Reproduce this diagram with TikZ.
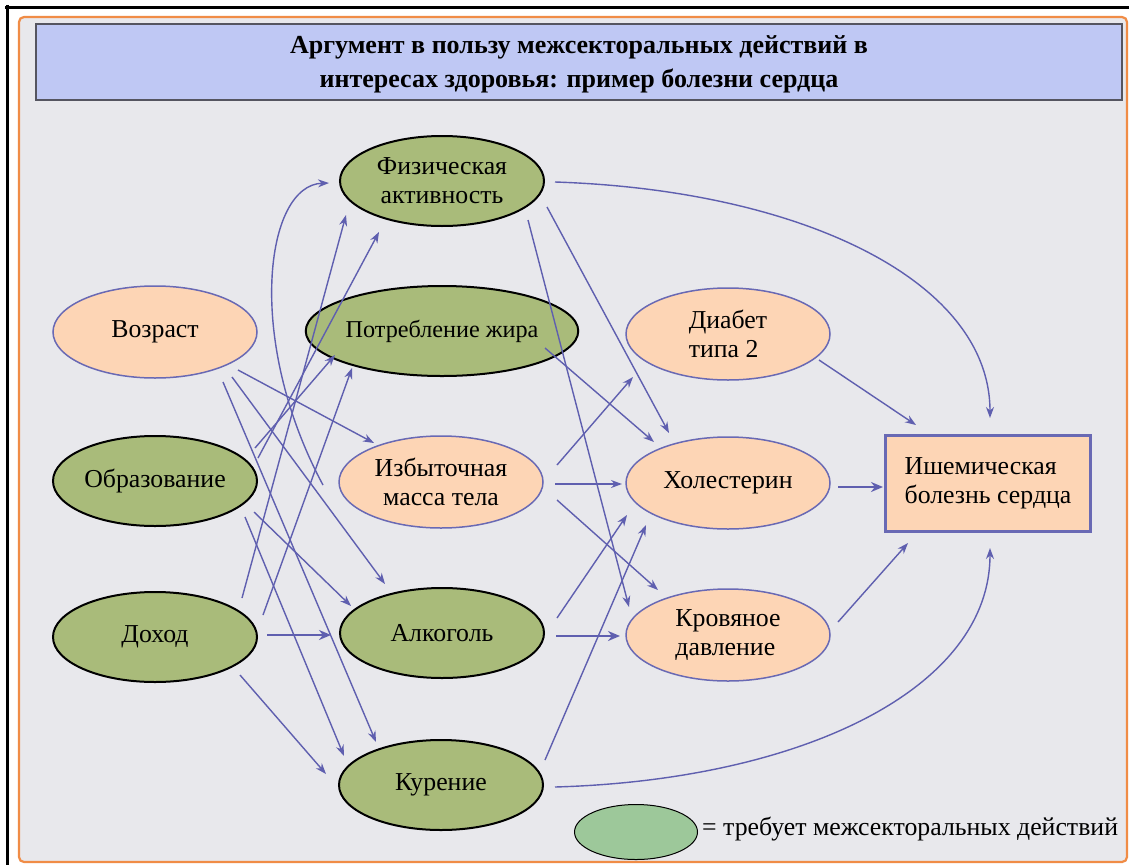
\documentclass[tikz,border=0pt]{standalone}
\usepackage{fontspec}
\setmainfont{Liberation Serif}
\usetikzlibrary{shapes.geometric,arrows.meta,calc}
\definecolor{bgc}{RGB}{232,232,236}
\definecolor{orangec}{RGB}{240,140,70}
\definecolor{titlec}{RGB}{191,200,244}
\definecolor{titlebd}{RGB}{85,85,96}
\definecolor{greenc}{RGB}{169,187,122}
\definecolor{peachc}{RGB}{253,213,181}
\definecolor{pbord}{RGB}{105,105,180}
\definecolor{arrc}{RGB}{95,95,175}
\definecolor{legc}{RGB}{157,200,154}
\newcommand\nodefnt{\fontsize{25.8}{29}\selectfont}
\tikzset{
  gnode/.style={ellipse, draw=black, line width=2pt, fill=greenc, minimum width=204pt, minimum height=90pt, inner sep=0pt, font=\nodefnt, align=center},
  pnode/.style={ellipse, draw=pbord, line width=1.5pt, fill=peachc, minimum width=204pt, minimum height=92pt, inner sep=0pt, font=\nodefnt, align=center},
  arr/.style={draw=arrc, line width=1.4pt, -{Stealth[length=11pt,width=8pt]}},
  tarr/.style={arr, line width=2.8pt, -{Stealth[length=12pt,width=10pt]}}
}
\begin{document}
\begin{tikzpicture}[x=1pt,y=-1pt]
\useasboundingbox (0,0) rectangle (1129,865);
\fill[white] (0,0) rectangle (1129,865);
% frame
\draw[black, line width=3pt] (5,7) -- (1129,7);
\draw[black, line width=3pt] (7,5) -- (7,865);
\draw[orangec, line width=2.2pt, fill=bgc, rounded corners=5pt] (19,17) rectangle (1127,862);
% title
\node[draw=titlebd, line width=2pt, fill=titlec, minimum width=1086pt, minimum height=76pt, inner sep=0pt] (titlebox) at (579,62) {};
\node[align=center, inner sep=0pt, font=\fontsize{26}{33.5}\selectfont\bfseries] (title) at (579,64.5)
  {Аргумент в пользу межсекторальных действий в\\интересах здоровья: пример болезни сердца};
% nodes
\node[pnode] (vozr) at (155,332) {Возраст};
\node[gnode] (obr) at (155,481) {Образование};
\node[gnode] (doh) at (155,637) {Доход};
\node[gnode] (fiz) at (442,181) {Физическая\\активность};
\node[gnode, font=\fontsize{24.2}{29}\selectfont] (zhir) at (442,331) {Потребление жира};
\node[pnode] (massa) at (441,482) {Избыточная\\масса тела};
\node[gnode] (alk) at (442,633) {Алкоголь};
\node[gnode] (kur) at (441,785) {Курение};
\node[pnode, align=left] (diab) at (728,334) {Диабет\\типа 2};
\node[pnode] (hol) at (728,483) {Холестерин};
\node[pnode, align=left] (krov) at (728,635) {Кровяное\\давление};
\node[draw=pbord, line width=3pt, fill=peachc, minimum width=205pt, minimum height=96pt, inner sep=0pt, align=left, font=\nodefnt] (ihd) at (988,483) {Ишемическая\\болезнь сердца};
% legend
\node[ellipse, draw=black, line width=1pt, fill=legc, minimum width=123pt, minimum height=55pt, inner sep=0pt] (leg) at (636,832) {};
\node[anchor=west, font=\nodefnt, inner sep=0pt] (legt) at ($(leg.east)+(4,-3)$) {= требует межсекторальных действий};
% arrows left
\draw[arr] ($(vozr)+(83,38)$) -- ($(massa)+(-67,-39)$);
\draw[arr] ($(vozr)+(77,45)$) -- ($(alk)+(-57,-49)$);
\draw[arr] ($(vozr)+(68,50)$) -- ($(kur)+(-65,-43)$);
\draw[arr] ($(obr)+(100,-33)$) -- ($(zhir)+(-107,24)$);
\draw[arr] ($(obr)+(103,-23)$) -- ($(fiz)+(-63,51)$);
\draw[arr] ($(obr)+(99,31)$) -- ($(alk)+(-91,-27)$);
\draw[arr] ($(obr)+(90,36)$) -- ($(kur)+(-97,-29)$);
\draw[arr] ($(doh)+(87,-39)$) -- ($(fiz)+(-96,34)$);
\draw[arr] ($(doh)+(108,-22)$) -- ($(zhir)+(-90,37)$);
\draw[tarr] ($(doh)+(112,-2)$) -- ($(alk)+(-111,2)$);
\draw[arr] ($(doh)+(85,38)$) -- ($(kur)+(-115,-11)$);
\coordinate (cst) at ($(massa)+(-118,3)$);
\draw[arr] (cst) .. controls (245,340) and (265,185) .. ($(fiz)+(-113,2)$);
% arrows middle
\draw[arr] ($(fiz)+(113,1)$) .. controls (800,190) and (990,280) .. ($(ihd)+(2,-65)$);
\draw[arr] ($(fiz)+(105,26)$) -- ($(hol)+(-59,-50)$);
\draw[arr] ($(fiz)+(86,39)$) -- ($(krov)+(-99,-28)$);
\draw[arr] ($(zhir)+(103,17)$) -- ($(hol)+(-74,-41)$);
\draw[arr] ($(massa)+(116,-17)$) -- ($(diab)+(-95,43)$);
\draw[arr] ($(massa)+(114,2)$) -- ($(hol)+(-106,1)$);
\draw[arr] ($(massa)+(116,18)$) -- ($(krov)+(-70,-45)$);
\draw[arr] ($(alk)+(115,-15)$) -- ($(hol)+(-101,32)$);
\draw[tarr] ($(alk)+(114,3)$) -- ($(krov)+(-108,1)$);
\draw[arr] ($(kur)+(104,-25)$) -- ($(hol)+(-82,42)$);
\draw[arr] ($(kur)+(114,2)$) .. controls (800,780) and (990,690) .. ($(ihd)+(2,65)$);
% arrows right
\draw[arr] ($(diab)+(91,26)$) -- ($(ihd)+(-72,-58)$);
\draw[tarr] ($(hol)+(110,4)$) -- ($(ihd)+(-105,4)$);
\draw[arr] ($(krov)+(110,-13)$) -- ($(ihd)+(-80,60)$);
\end{tikzpicture}
\end{document}
